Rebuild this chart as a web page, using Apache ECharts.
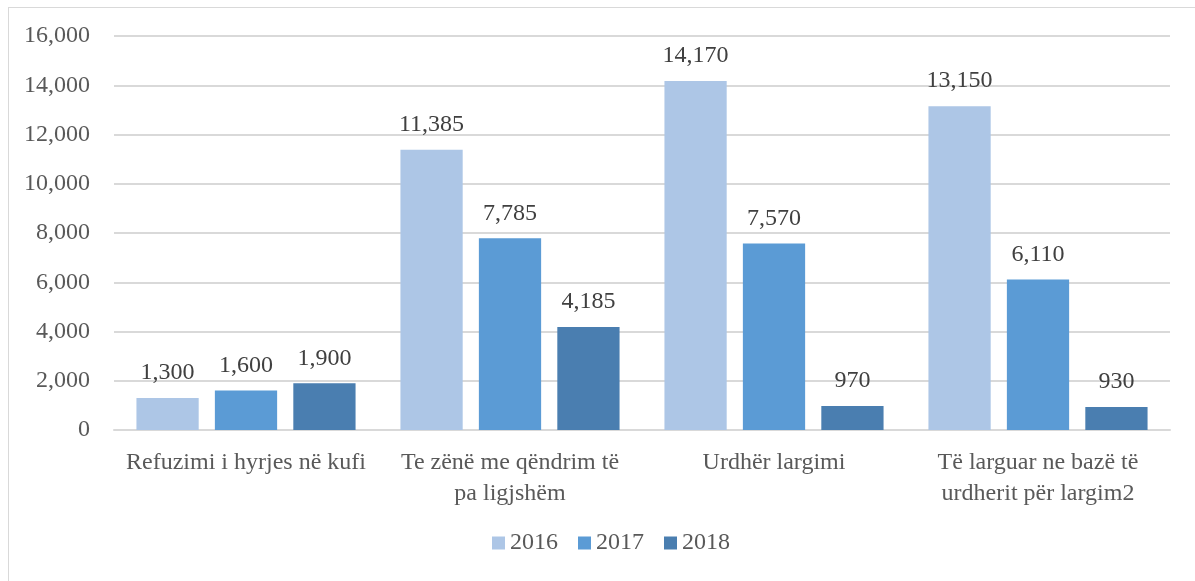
<!DOCTYPE html>
<html>
<head>
<meta charset="utf-8">
<script src="https://cdn.jsdelivr.net/npm/echarts@6/dist/echarts.min.js"></script>
<style>
  html, body { margin: 0; padding: 0; background: #fff; }
  #wrap { position: relative; width: 1195px; height: 581px; overflow: hidden; }
  #frame { position: absolute; left: 8px; top: 7px; width: 1200px; height: 600px; border: 1px solid #d9d9d9; box-sizing: border-box; }
  #barChart { position: absolute; left: 0; top: 0; width: 1195px; height: 581px; }
</style>
</head>
<body>
<div id="wrap">
  <div id="frame"></div>
  <div id="barChart"></div>
</div>
<script>
const categories = [
  'Refuzimi i hyrjes në kufi',
  'Te zënë me qëndrim të\npa ligjshëm',
  'Urdhër largimi',
  'Të larguar ne bazë të\nurdherit për largim2'
]
const years = ['2016', '2017', '2018']
const values2016 = [1300, 11385, 14170, 13150]
const values2017 = [1600, 7785, 7570, 6110]
const values2018 = [1900, 4185, 970, 930]
const yTicks = [0, 2000, 4000, 6000, 8000, 10000, 12000, 14000, 16000]

const FONT = '"Liberation Serif", serif'
const TEXT = '#595959'
const fmt = v => Number(v).toLocaleString('en-US')

const chart = echarts.init(document.getElementById('barChart'))

const makeSeries = (name, data, color) => ({
  name: name,
  type: 'bar',
  data: data,
  barGap: '26%',
  barCategoryGap: '17%',
  itemStyle: { color: color },
  label: {
    show: true,
    position: 'top',
    distance: 13,
    color: '#404040',
    fontFamily: FONT,
    fontSize: 24,
    formatter: p => fmt(p.value)
  }
})

chart.setOption({
  animation: false,
  textStyle: { fontFamily: FONT },
  grid: {
    left: 114,
    right: 25,
    top: 36,
    bottom: 151,
    containLabel: false
  },
  legend: {
    data: years,
    bottom: 21,
    left: 487,
    itemWidth: 13,
    itemHeight: 13,
    itemGap: 20,
    icon: 'rect',
    textStyle: { color: TEXT, fontFamily: FONT, fontSize: 24 }
  },
  xAxis: {
    type: 'category',
    data: categories,
    axisLine: { show: true, lineStyle: { color: '#d9d9d9', width: 2 } },
    axisTick: { show: false },
    axisLabel: {
      color: TEXT,
      fontFamily: FONT,
      fontSize: 24,
      margin: 17,
      lineHeight: 31,
      interval: 0
    }
  },
  yAxis: {
    type: 'value',
    min: yTicks[0],
    max: yTicks[yTicks.length - 1],
    interval: 2000,
    axisLine: { show: false },
    axisTick: { show: false },
    splitLine: { lineStyle: { color: '#d9d9d9', width: 2 } },
    axisLabel: {
      color: TEXT,
      fontFamily: FONT,
      fontSize: 24,
      margin: 24,
      formatter: v => fmt(v)
    }
  },
  series: [
    makeSeries(years[0], values2016, '#adc6e6'),
    makeSeries(years[1], values2017, '#5b9bd5'),
    makeSeries(years[2], values2018, '#4a7eb0')
  ]
})
</script>
</body>
</html>
